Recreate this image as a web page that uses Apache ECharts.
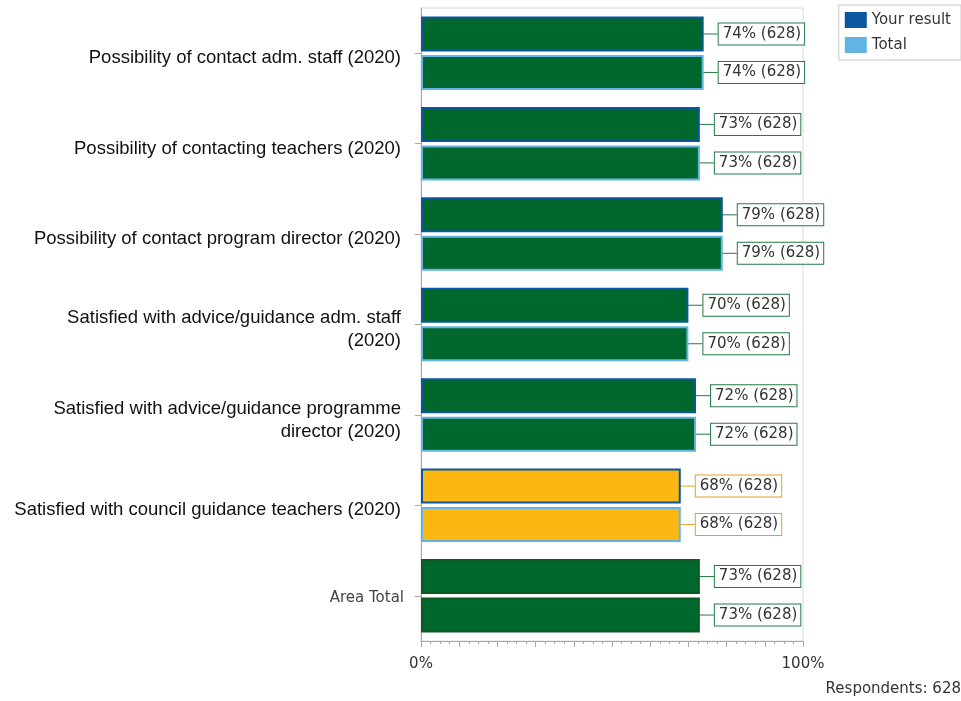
<!DOCTYPE html>
<html>
<head>
<meta charset="utf-8">
<script src="https://cdn.jsdelivr.net/npm/echarts@6/dist/echarts.min.js"></script>
<style>
  html, body { margin: 0; padding: 0; background: #fff; }
  #main { width: 961px; height: 701px; }
</style>
</head>
<body>
<div id="main"></div>
<script>
// data
var categories = [
    'Possibility of contact adm. staff (2020)',
    'Possibility of contacting teachers (2020)',
    'Possibility of contact program director (2020)',
    'Satisfied with advice/guidance adm. staff\n(2020)',
    'Satisfied with advice/guidance programme\ndirector (2020)',
    'Satisfied with council guidance teachers (2020)',
    'Area Total'
];
var yourResult = [74, 73, 79, 70, 72, 68, 73];
var total = [74, 73, 79, 70, 72, 68, 73];
var counts = [628, 628, 628, 628, 628, 628, 628];
var respondents = 628;
var xTicks = [0, 100];

var chart = echarts.init(document.getElementById('main'));

// 低于70%显示黄色
function fillOf(v) { return v < 70 ? '#fdb713' : '#00682c'; }
function edgeOf(v) { return v < 70 ? '#e0a22a' : '#247a45'; }

function buildData(values, border) {
    return values.map(function (v, i) {
        var isTotal = categories[i] === 'Area Total';
        return {
            value: v,
            itemStyle: {
                color: fillOf(v),
                borderColor: isTotal ? '#0b5a22' : border
            },
            label: { borderColor: edgeOf(v) },
            labelLine: { lineStyle: { color: edgeOf(v) } }
        };
    });
}

function makeSeries(name, values, border) {
    return {
        name: name,
        type: 'bar',
        barWidth: 35,
        barGap: '10%',
        itemStyle: { borderWidth: 2 },
        label: {
            show: true,
            position: 'right',
            distance: 0,
            fontFamily: 'DejaVu Sans',
            fontSize: 15,
            color: '#333',
            backgroundColor: '#fff',
            borderWidth: 1,
            padding: [3, 3, 3, 4],
            formatter: function (p) {
                return p.value + '% (' + counts[p.dataIndex] + ')';
            }
        },
        labelLayout: { dx: 15 },
        labelLine: { show: true, lineStyle: { width: 1 } },
        data: buildData(values, border)
    };
}

var option = {
    animation: false,
    grid: {
        left: 421,
        right: 158,
        top: 8,
        bottom: 60,
        show: true,
        borderColor: '#dadada',
        borderWidth: 1
    },
    legend: {
        orient: 'vertical',
        right: 0,
        top: 5,
        borderColor: '#c8c8c8',
        borderWidth: 1,
        padding: [7, 10, 7, 6],
        itemWidth: 22,
        itemHeight: 16,
        itemGap: 9,
        textStyle: { fontFamily: 'DejaVu Sans', fontSize: 15, color: '#333' },
        data: [
            { name: 'Your result', icon: 'rect', itemStyle: { color: '#0b56a0', borderWidth: 0 } },
            { name: 'Total', icon: 'rect', itemStyle: { color: '#62b4e3', borderWidth: 0 } }
        ]
    },
    xAxis: {
        type: 'value',
        min: 0,
        max: 100,
        interval: 10,
        axisLine: { show: true, lineStyle: { color: '#a8a8a8' } },
        axisTick: { show: true, length: 6, lineStyle: { color: '#a8a8a8' } },
        minorTick: { show: true, splitNumber: 4, length: 3, lineStyle: { color: '#a8a8a8' } },
        splitLine: { show: false },
        axisLabel: {
            margin: 16,
            fontFamily: 'DejaVu Sans',
            fontSize: 15,
            color: '#333',
            formatter: function (v) {
                return xTicks.indexOf(v) >= 0 ? v + '%' : '';
            }
        }
    },
    yAxis: {
        type: 'category',
        inverse: true,
        data: categories,
        axisLine: { show: true, lineStyle: { color: '#a8a8a8' } },
        axisTick: { show: true, alignWithLabel: true, length: 6, lineStyle: { color: '#a8a8a8' } },
        axisLabel: {
            margin: 20,
            fontFamily: 'Liberation Sans',
            fontSize: 18.5,
            lineHeight: 23,
            color: '#111',
            padding: [10, 0, 0, 0],
            formatter: function (v) {
                return v === 'Area Total' ? '{t|' + v + '}' : v;
            },
            rich: {
                t: { fontFamily: 'DejaVu Sans', fontSize: 15, color: '#444', padding: [0, -3, 6, 0] }
            }
        }
    },
    graphic: [{
        type: 'text',
        right: 0,
        bottom: 4,
        style: {
            text: 'Respondents: ' + respondents,
            fontFamily: 'DejaVu Sans',
            fontSize: 15,
            fill: '#333'
        }
    }],
    series: [
        makeSeries('Your result', yourResult, '#0b56a0'),
        makeSeries('Total', total, '#62b4e3')
    ]
};

chart.setOption(option);
</script>
</body>
</html>
